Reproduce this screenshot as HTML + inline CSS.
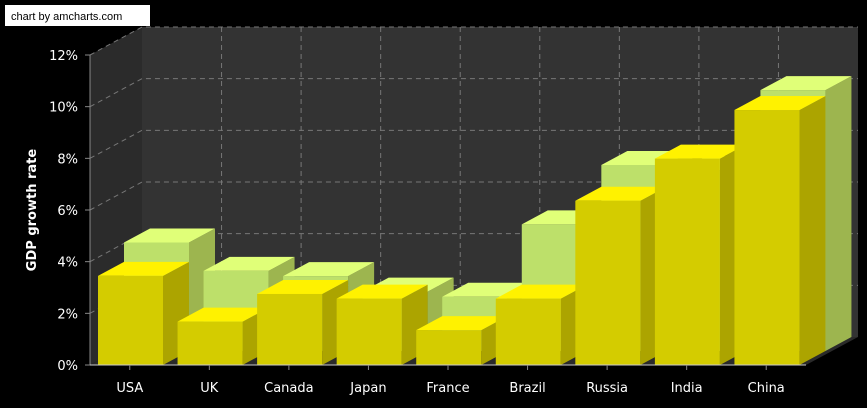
<!DOCTYPE html>
<html><head><meta charset="utf-8"><style>
html,body{margin:0;padding:0;background:#000;}
svg{display:block;font-family:"DejaVu Sans","Liberation Sans",sans-serif;}
</style></head><body>
<svg id="c" width="867" height="408" viewBox="0 0 867 408">
<rect x="0" y="0" width="867" height="408" fill="#000"/>
<g id="walls"></g>
<g id="grid"></g>
<g id="bars"></g>
<g id="axes"></g>
<text x="36" y="210" fill="#fff" font-size="13" font-weight="bold" text-anchor="middle" transform="rotate(-90 36 210)">GDP growth rate</text>
<rect x="5" y="5" width="145" height="21" fill="#fff"/>
<text x="11" y="20" fill="#000" font-size="11" font-family="Liberation Sans, sans-serif">chart by amcharts.com</text>
</svg>
<script>
const categories = ["USA","UK","Canada","Japan","France","Brazil","Russia","India","China"];
const backSeries = [4.2, 3.1, 2.9, 2.3, 2.1, 4.9, 7.2, 7.0, 10.1];
const frontSeries = [3.45, 1.68, 2.75, 2.57, 1.35, 2.57, 6.36, 7.99, 9.87];
const yTicks = [0, 2, 4, 6, 8, 10, 12];
const yTickLabels = ["0%","2%","4%","6%","8%","10%","12%"];

const NS = "http://www.w3.org/2000/svg";
const X0 = 90, X1 = 806, Y0 = 365, YMAX = 12, PXPER = (365 - 55) / 12;
const DX = 52, DY = -28;
const catW = (X1 - X0) / categories.length;
const barW = 65, barOff = 8;
function yScale(v){ return Y0 - v * PXPER; }
function xCat(i){ return X0 + i * catW; }
function el(tag, attrs, parent){
  const e = document.createElementNS(NS, tag);
  for (const k in attrs) e.setAttribute(k, attrs[k]);
  parent.appendChild(e); return e;
}
const walls = document.getElementById('walls'), grid = document.getElementById('grid'),
      bars = document.getElementById('bars'), axes = document.getElementById('axes');
let w = el('polygon', {points:`${X0+DX},${yScale(YMAX)+DY} ${X1+DX},${yScale(YMAX)+DY} ${X1+DX},${Y0+DY} ${X0+DX},${Y0+DY}`, fill:'#333333'}, walls);
 
w = el('polygon', {points:`${X0},${yScale(YMAX)} ${X0+DX},${yScale(YMAX)+DY} ${X0+DX},${Y0+DY} ${X0},${Y0}`, fill:'#2b2b2b'}, walls);
 
w = el('polygon', {points:`${X0},${Y0} ${X0+DX},${Y0+DY} ${X1+DX},${Y0+DY} ${X1},${Y0}`, fill:'#2a2a2a'}, walls);
 
yTicks.forEach((t,i)=>{
  const y = yScale(t);
  if (t > 0) {
    let l = el('polyline', {points:`${X0},${y} ${X0+DX},${y+DY} ${X1+DX},${y+DY}`, fill:'none', stroke:'#777', 'stroke-dasharray':'5,4', 'stroke-width':1}, grid);
     
  }
  let tk = el('line', {x1:X0-5, y1:y, x2:X0, y2:y, stroke:'#888'}, axes);
   
  const tx = el('text', {x:78, y:y+5, fill:'#fff', 'font-size':13, 'text-anchor':'end'}, axes);
  tx.textContent = yTickLabels[i];
   
});
for (let i=1;i<categories.length;i++){
  const x = xCat(i)+DX;
  let l = el('line', {x1:x, y1:yScale(YMAX)+DY, x2:x, y2:Y0+DY, stroke:'#777', 'stroke-dasharray':'5,4'}, grid);
   
}
let ax = el('line', {x1:X0, y1:yScale(YMAX), x2:X0, y2:Y0, stroke:'#888'}, axes);
 
ax = el('line', {x1:X0, y1:Y0, x2:X1, y2:Y0, stroke:'#ccc'}, axes);
 
categories.forEach((c,i)=>{
  const cx = xCat(i)+catW/2;
  let tk = el('line', {x1:cx, y1:Y0, x2:cx, y2:Y0+5, stroke:'#888'}, axes);
   
  const t = el('text', {x:cx, y:392, fill:'#fff', 'font-size':13, 'text-anchor':'middle'}, axes);
  t.textContent = c;
   
});
function drawBar(i, v, z, cols, name){
  const g = el('g', {}, bars);
  
  
  const ox = z*DX/2, oy = z*DY/2, dx = DX/2, dy = DY/2;
  const x = xCat(i)+barOff+ox, yb = Y0+oy, yt = yScale(v)+oy;
  el('polygon', {points:`${x+barW},${yb} ${x+barW+dx},${yb+dy} ${x+barW+dx},${yt+dy} ${x+barW},${yt}`, fill:cols[2]}, g);
  el('polygon', {points:`${x},${yt} ${x+dx},${yt+dy} ${x+barW+dx},${yt+dy} ${x+barW},${yt}`, fill:cols[1]}, g);
  el('rect', {x:x, y:yt, width:barW, height:yb-yt, fill:cols[0]}, g);
}
backSeries.forEach((v,i)=>drawBar(i, v, 1, ['#bde06a','#e0ff78','#9db54f'], 'bar-back'));
frontSeries.forEach((v,i)=>drawBar(i, v, 0, ['#d4cc00','#fff200','#aca400'], 'bar-front'));
</script>
</body></html>
